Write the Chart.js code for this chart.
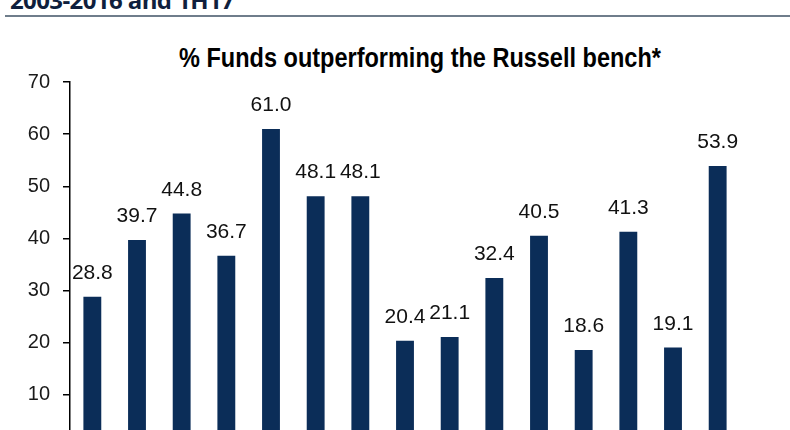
<!DOCTYPE html>
<html>
<head>
<meta charset="utf-8">
<script src="https://cdn.jsdelivr.net/npm/chart.js@4"></script>
<style>
  html, body { margin: 0; padding: 0; background: #fff; overflow: hidden; }
  body { width: 790px; height: 430px; position: relative; }
  .header {
    position: absolute; left: 10px; top: -17px;
    font: bold 24px "Open Sans", "Liberation Sans", sans-serif;
    color: #0f1f3d; white-space: nowrap; letter-spacing: -0.6px;
  }
  .rule { position: absolute; left: 5px; top: 15px; width: 785px; height: 2px; background: #6f7d8b; }
  .title {
    position: absolute; left: 0; top: 45px; width: 840px; text-align: center;
    font: bold 23.5px "Liberation Sans", Arial, sans-serif; color: #000;
    transform: scaleY(1.15);
  }
  #wrap { position: absolute; left: 0; top: 0; width: 790px; height: 479px; }
</style>
</head>
<body>
<div class="header">2003-2016 and 1H17</div>
<div class="rule"></div>
<div class="title">% Funds outperforming the Russell bench*</div>
<div id="wrap"><canvas id="chart" width="790" height="479"></canvas></div>
<script>
// years 2003-2016 plus first half 2017
const periods = ['2003', '2004', '2005', '2006', '2007', '2008', '2009', '2010',
                 '2011', '2012', '2013', '2014', '2015', '2016', '1H17'];
const pctOutperforming = [28.8, 39.7, 44.8, 36.7, 61.0, 48.1, 48.1, 20.4,
                          21.1, 32.4, 40.5, 18.6, 41.3, 19.1, 53.9];
const yTicks = [0, 10, 20, 30, 40, 50, 60, 70];

const valueLabels = {
  id: 'valueLabels',
  afterDatasetsDraw(chart) {
    const ctx = chart.ctx;
    const meta = chart.getDatasetMeta(0);
    ctx.save();
    ctx.font = '21px "Liberation Sans", Arial, sans-serif';
    ctx.fillStyle = '#111';
    ctx.textAlign = 'center';
    ctx.textBaseline = 'bottom';
    meta.data.forEach((bar, i) => {
      ctx.fillText(pctOutperforming[i].toFixed(1), bar.x, bar.y - 13);
    });
    ctx.restore();
  }
};

new Chart(document.getElementById('chart'), {
  type: 'bar',
  data: {
    labels: periods,
    datasets: [{
      data: pctOutperforming,
      backgroundColor: '#0b2d58',
      barPercentage: 0.8,
      categoryPercentage: 0.5
    }]
  },
  options: {
    responsive: false,
    animation: false,
    layout: { padding: { top: 82, right: 50, bottom: 24, left: 0 } },
    plugins: { legend: { display: false }, tooltip: { enabled: false } },
    scales: {
      x: {
        ticks: { display: false },
        grid: { display: false },
        border: { display: false }
      },
      y: {
        min: 0, max: 70,
        afterFit(scale) { scale.width = 70; },
        afterBuildTicks(scale) { scale.ticks = yTicks.map(v => ({ value: v })); },
        ticks: {
          color: '#1a1a1a',
          padding: 13,
          font: { size: 20, family: '"Liberation Sans", Arial, sans-serif' }
        },
        grid: { drawOnChartArea: false, drawTicks: true, tickLength: 7, color: '#000', lineWidth: 1.5 },
        border: { display: true, color: '#000', width: 1.5 }
      }
    }
  },
  plugins: [valueLabels]
});
</script>
</body>
</html>
